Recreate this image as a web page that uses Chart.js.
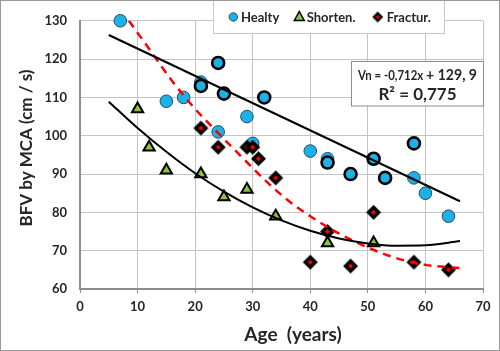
<!DOCTYPE html>
<html><head><meta charset="utf-8">
<script src="https://cdn.jsdelivr.net/npm/chart.js@4/dist/chart.umd.min.js"></script>
<style>html,body{margin:0;padding:0;background:#fff}</style>
</head><body>
<canvas id="c" width="500" height="351"></canvas>
<script>
// ---- data ----
const healthyAge   = [7, 15, 18, 21, 24, 29, 30, 40, 43, 58, 60, 64];
const healthyBfv   = [130, 109, 110, 114, 101, 105, 98, 96, 94, 89, 85, 79];
const healthyAgeB  = [21, 24, 25, 32, 43, 47, 51, 53, 58];
const healthyBfvB  = [113, 119, 111, 110, 93, 90, 94, 89, 98];
const shortAge     = [10, 12, 15, 21, 25, 29, 34, 43, 51];
const shortBfv     = [107, 97, 91, 90, 84, 86, 79, 72, 72];
const fracAge      = [21, 24, 29, 30, 31, 34, 40, 43, 47, 51, 58, 64];
const fracBfv      = [102, 97, 97, 97, 94, 89, 67, 75, 66, 80, 67, 65];
const linTrendAge  = [5, 66];
const linTrendBfv  = [126.3, 82.9];
const shortTrendAge = [5, 10, 15, 20, 25, 30, 35, 40, 45, 50, 55, 60, 66];
const shortTrendBfv = [108.9, 102.0, 95.8, 90.2, 85.4, 81.3, 77.9, 75.2, 73.2, 71.9, 71.3, 71.4, 72.5];
const fracTrendAge = [8.5, 12, 16, 20, 24, 28, 32, 36, 40, 44, 48, 52, 56, 60, 66.5];
const fracTrendBfv = [130, 122.7, 114.3, 107, 100.7, 94.6, 88.6, 83.3, 79, 75.3, 72.2, 69.6, 67.6, 66.3, 65.4];
const legendLabels = ['Healty', 'Shorten.', 'Fractur.'];
const xTitle = 'Age  (years)';
const yTitle = 'BFV by MCA (cm / s)';
const eqText1 = 'Vn = -0,712x';
const eqText2 = '+ 129, 9';
const eqText3 = 'R\u00B2 = 0,775';

const pts = (xs, ys) => xs.map((x, i) => ({x: x, y: ys[i]}));

const BLUE = '#1DB1E8', GREEN = '#8DC43E', RED = '#FF0000';
const FONT = 'Lato, "Open Sans", sans-serif';

// diamond marker image
function diamondImg(h, dot) {
  const s = Math.ceil(h * 2 + 4);
  const c = document.createElement('canvas'); c.width = s; c.height = s;
  const g = c.getContext('2d'); const m = s / 2;
  g.beginPath(); g.moveTo(m, m - h); g.lineTo(m + h, m); g.lineTo(m, m + h); g.lineTo(m - h, m); g.closePath();
  g.fillStyle = '#000'; g.fill();
  g.beginPath(); g.moveTo(m, m - dot); g.lineTo(m + dot, m); g.lineTo(m, m + dot); g.lineTo(m - dot, m); g.closePath();
  g.fillStyle = RED; g.fill();
  return c;
}
const diamond = diamondImg(7.5, 2.6);
const diamondSmall = diamondImg(5.5, 2);

const overlay = {
  id: 'overlay',
  afterDraw(chart) {
    const ctx = chart.ctx;
    ctx.save();
    // axis titles
    ctx.fillStyle = '#262626';
    ctx.textAlign = 'center'; ctx.textBaseline = 'middle';
    ctx.font = 'bold 19px ' + FONT;
    ctx.fillText(xTitle, 293, 335);
    ctx.save();
    ctx.translate(27, 148); ctx.rotate(-Math.PI / 2);
    ctx.font = 'bold 17px ' + FONT;
    ctx.fillText(yTitle, 0, 0);
    ctx.restore();

    // legend box
    ctx.fillStyle = '#fff'; ctx.fillRect(213.5, -1, 231, 34.5);
    ctx.strokeStyle = '#c8c8c8'; ctx.lineWidth = 1; ctx.strokeRect(213.5, -1, 231, 34.5);
    const ly = 17;
    ctx.beginPath(); ctx.arc(233.3, ly, 4.2, 0, Math.PI * 2); ctx.fillStyle = BLUE; ctx.fill();
    ctx.strokeStyle = '#1f4e69'; ctx.lineWidth = 1; ctx.stroke();
    ctx.beginPath(); ctx.moveTo(299.3, ly - 5.5); ctx.lineTo(304.3, ly + 3.5); ctx.lineTo(294.3, ly + 3.5); ctx.closePath();
    ctx.fillStyle = GREEN; ctx.fill(); ctx.strokeStyle = '#000'; ctx.lineWidth = 1.5; ctx.stroke();
    ctx.drawImage(diamondSmall, 377.7 - diamondSmall.width / 2, ly - diamondSmall.height / 2);
    ctx.fillStyle = '#262626'; ctx.textAlign = 'left'; ctx.textBaseline = 'middle';
    ctx.font = 'bold 13px ' + FONT;
    ctx.fillText(legendLabels[0], 241, ly + 1);
    ctx.fillText(legendLabels[1], 306.7, ly + 1);
    ctx.fillText(legendLabels[2], 386.7, ly + 1);

    // equation box
    ctx.fillStyle = '#fff'; ctx.fillRect(351.5, 61.5, 132, 44.5);
    ctx.strokeStyle = '#8c8c8c'; ctx.lineWidth = 1; ctx.strokeRect(351.5, 61.5, 132, 44.5);
    ctx.fillStyle = '#262626';
    ctx.font = 'bold 13px ' + FONT; const w1 = ctx.measureText(eqText1 + ' ').width;
    ctx.font = 'bold 16px ' + FONT; const w2 = ctx.measureText(eqText2).width;
    const target = 119;
    const k = Math.min(1, target / (w1 + w2));
    ctx.save();
    ctx.translate(417.5 - target / 2 * ((w1 + w2) * k / target), 0);
    ctx.scale(k, 1);
    ctx.textAlign = 'left';
    ctx.font = 'bold 13px ' + FONT; ctx.fillText(eqText1, 0, 76);
    ctx.font = 'bold 16px ' + FONT; ctx.fillText(eqText2, w1, 75);
    ctx.restore();
    ctx.textAlign = 'center';
    ctx.font = 'bold 17px ' + FONT; ctx.fillText(eqText3, 417.5, 94.5);

    // outer frame
    ctx.strokeStyle = '#9a9a9a'; ctx.lineWidth = 1; ctx.strokeRect(0.5, 0.5, 499, 350);
    ctx.restore();
  }
};

new Chart(document.getElementById('c'), {
  type: 'scatter',
  data: {
    datasets: [
      { label: 'lin', data: pts(linTrendAge, linTrendBfv), showLine: true, pointRadius: 0,
        borderColor: '#000', borderWidth: 2, order: 0 },
      { label: 'poly', data: pts(shortTrendAge, shortTrendBfv), showLine: true, pointRadius: 0,
        borderColor: '#000', borderWidth: 2, cubicInterpolationMode: 'monotone', order: 0 },
      { label: 'fracTrend', data: pts(fracTrendAge, fracTrendBfv), showLine: true, pointRadius: 0,
        borderColor: RED, borderWidth: 2.5, borderDash: [8, 6], cubicInterpolationMode: 'monotone', order: 0 },
      { label: legendLabels[2], data: pts(fracAge, fracBfv), pointStyle: diamond, order: 1, clip: false },
      { label: legendLabels[1], data: pts(shortAge, shortBfv), pointStyle: 'triangle', pointRadius: 6.5,
        backgroundColor: GREEN, borderColor: '#000', borderWidth: 2, order: 2, clip: false },
      { label: legendLabels[0] + 'B', data: pts(healthyAgeB, healthyBfvB), pointStyle: 'circle', pointRadius: 6,
        backgroundColor: BLUE, borderColor: '#000', borderWidth: 2.6, order: 3, clip: false },
      { label: legendLabels[0], data: pts(healthyAge, healthyBfv), pointStyle: 'circle', pointRadius: 6.3,
        backgroundColor: BLUE, borderColor: '#1f4e69', borderWidth: 1, order: 4, clip: false }
    ]
  },
  options: {
    responsive: false, animation: false, devicePixelRatio: 1,
    layout: { padding: { top: 9, right: 17, left: 0, bottom: 0 } },
    plugins: { legend: { display: false }, tooltip: { enabled: false } },
    scales: {
      x: {
        type: 'linear', min: 0, max: 70,
        afterFit(s) { s.height = 62; },
        ticks: { stepSize: 10, padding: 6, color: '#262626', font: { family: FONT, size: 13, weight: 'bold' } },
        grid: { color: '#c4c4c4', borderDash: [3, 3], drawTicks: true, tickLength: 4, tickColor: '#8c8c8c', tickBorderDash: [] },
        border: { display: true, color: '#8c8c8c', width: 2 }
      },
      y: {
        type: 'linear', min: 60, max: 130,
        afterFit(s) { s.width = 80; },
        ticks: { stepSize: 10, padding: 13, color: '#262626', font: { family: FONT, size: 13, weight: 'bold' } },
        grid: { color: '#c4c4c4', borderDash: [3, 3], drawTicks: false },
        border: { display: true, color: '#8c8c8c', width: 2 }
      }
    }
  },
  plugins: [overlay]
});
</script>
</body></html>
